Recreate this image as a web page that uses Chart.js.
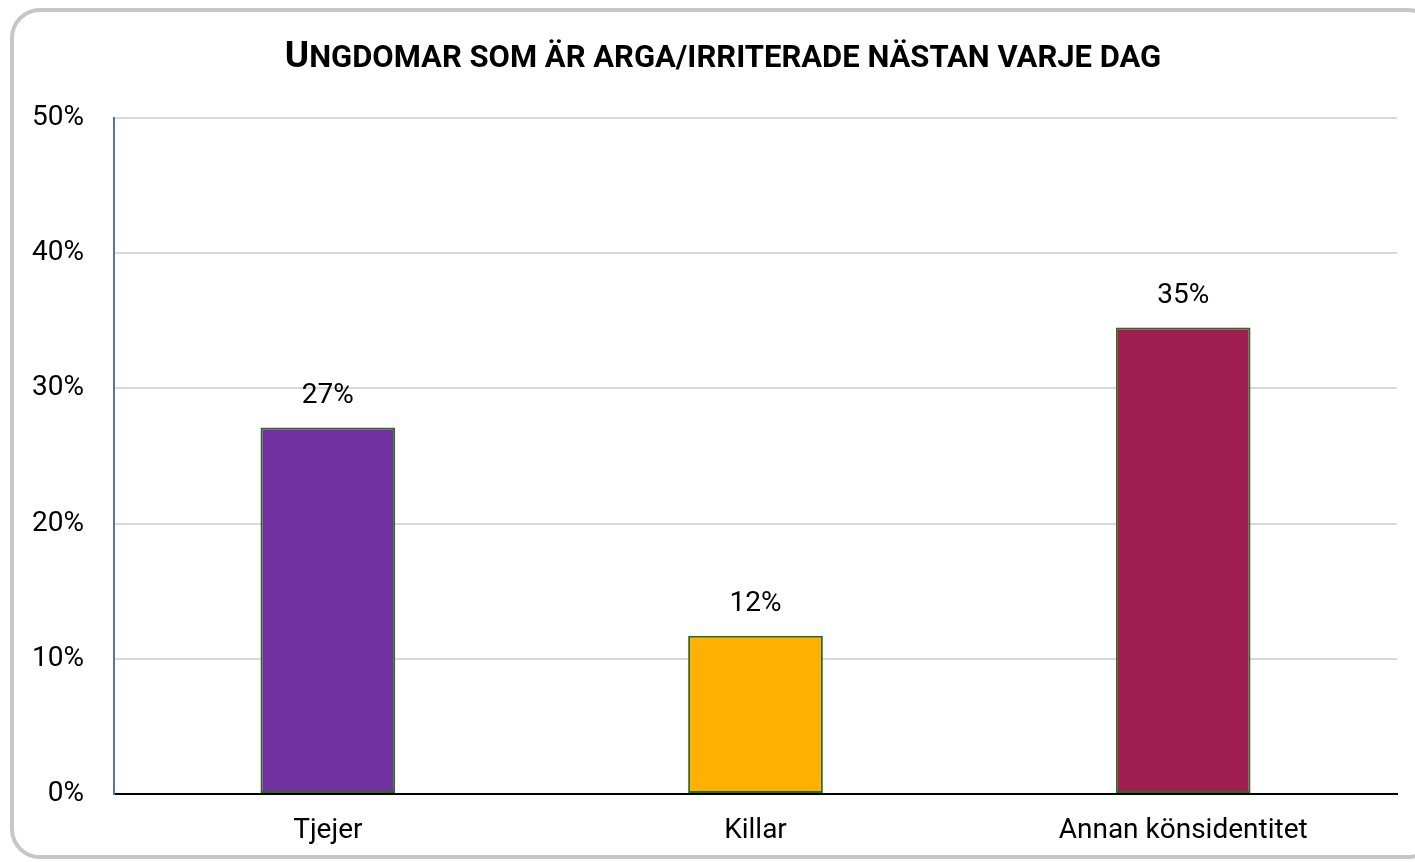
<!DOCTYPE html>
<html>
<head>
<meta charset="utf-8">
<script src="https://cdn.jsdelivr.net/npm/chart.js@4.4.1/dist/chart.umd.min.js"></script>
<style>
    html, body { margin: 0; padding: 0; background: #fff; overflow: hidden; }
    #wrap { position: relative; width: 1415px; height: 862px; overflow: hidden; }
    #frame {
        position: absolute; left: 10px; top: 8px; width: 1420px; height: 843px;
        border: 4px solid #c6c6c6; border-radius: 30px; pointer-events: none;
    }
</style>
</head>
<body>
<div id="wrap">
    <canvas id="grafico" width="1415" height="862"></canvas>
    <div id="frame"></div>
</div>
<script>
// dados do gráfico
const titulo = 'Ungdomar som är arga/irriterade nästan varje dag';
const categorias = ['Tjejer', 'Killar', 'Annan könsidentitet'];
const valores = [27.1, 11.7, 34.5];
const cores = ['#7030a0', '#ffb000', '#9e1e50'];
const ticksY = [0, 10, 20, 30, 40, 50];

const fonte = 'Roboto, sans-serif';

// título em "small caps": primeira letra maior
const tituloPlugin = {
    id: 'tituloPlugin',
    afterDraw(chart) {
        const ctx = chart.ctx;
        const primeira = titulo.charAt(0).toUpperCase();
        const resto = titulo.slice(1).toUpperCase();
        ctx.save();
        ctx.fillStyle = '#000';
        ctx.textBaseline = 'alphabetic';
        ctx.font = 'bold 37px ' + fonte;
        const w1 = ctx.measureText(primeira).width;
        ctx.font = 'bold 31px ' + fonte;
        const w2 = ctx.measureText(resto).width;
        const x0 = 723 - (w1 + w2) / 2;
        ctx.font = 'bold 37px ' + fonte;
        ctx.fillText(primeira, x0, 67);
        ctx.font = 'bold 31px ' + fonte;
        ctx.fillText(resto, x0 + w1, 67);
        ctx.restore();
    }
};

// rótulos de valor acima das barras
const rotulosPlugin = {
    id: 'rotulosPlugin',
    afterDatasetsDraw(chart) {
        const ctx = chart.ctx;
        const meta = chart.getDatasetMeta(0);
        ctx.save();
        ctx.fillStyle = '#000';
        ctx.font = '28px ' + fonte;
        ctx.textAlign = 'center';
        ctx.textBaseline = 'middle';
        meta.data.forEach((barra, i) => {
            ctx.fillText(Math.round(valores[i]) + '%', barra.x, barra.y - 32);
        });
        ctx.restore();
    }
};

const ctx = document.getElementById('grafico').getContext('2d');
const grafico = new Chart(ctx, {
    type: 'bar',
    data: {
        labels: categorias,
        datasets: [{
            data: valores,
            backgroundColor: cores,
            borderColor: '#2f6a1e',
            borderWidth: 2,
            borderSkipped: false,
            categoryPercentage: 1,
            barPercentage: 0.315
        }]
    },
    options: {
        responsive: false,
        animation: false,
        layout: {
            padding: { left: 0, right: 18, top: 118, bottom: 0 }
        },
        scales: {
            x: {
                grid: { display: false, drawTicks: false },
                border: { color: '#000', width: 2 },
                ticks: {
                    color: '#000',
                    padding: 20,
                    font: { family: fonte, size: 28 }
                },
                afterFit(scale) { scale.height = 68; }
            },
            y: {
                min: 0,
                max: 50,
                afterBuildTicks(scale) {
                    scale.ticks = ticksY.map(v => ({ value: v }));
                },
                grid: { color: '#d9d9d9', lineWidth: 2, drawTicks: false },
                border: { color: '#5a74a6', width: 2 },
                ticks: {
                    color: '#000',
                    padding: 30,
                    font: { family: fonte, size: 28 },
                    callback: v => v + '%'
                },
                afterFit(scale) { scale.width = 114; }
            }
        },
        plugins: {
            legend: { display: false },
            title: { display: false },
            tooltip: { enabled: false }
        }
    },
    plugins: [tituloPlugin, rotulosPlugin]
});
</script>
</body>
</html>
